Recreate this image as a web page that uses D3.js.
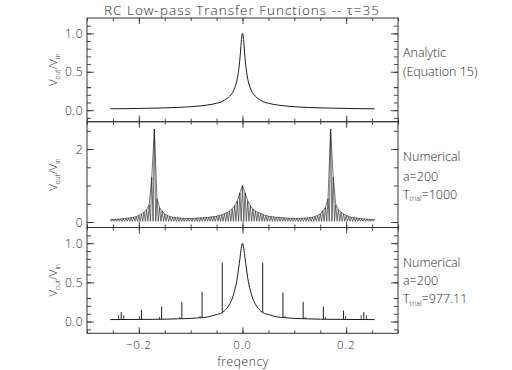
<!DOCTYPE html>
<html><head><meta charset="utf-8">
<script src="https://cdn.jsdelivr.net/npm/d3@7"></script>
<style>
body{margin:0;background:#fff;}
text{font-family:"Open Sans","DejaVu Sans",sans-serif;font-weight:300;fill:#2a2a2a;}
</style></head>
<body><svg id="c" width="512" height="370"></svg>
<script>
// ---------- data ----------
const titleText = "RC Low-pass Transfer Functions -- \u03c4=35";
const xTickLabels = ["\u22120.2", "0.0", "0.2"];
const xTickValues = [-0.2, 0.0, 0.2];

// Panel 1: analytic curve
const topFreq = [-0.255,-0.225,-0.2,-0.175,-0.15,-0.125,-0.1,-0.08,-0.07,-0.06,-0.05,-0.04,-0.035,-0.03,-0.025,-0.02,-0.0175,-0.015,-0.0125,-0.01,-0.008,-0.007,-0.006,-0.005,-0.004,-0.003,-0.002,-0.001,0,
  0.001,0.002,0.003,0.004,0.005,0.006,0.007,0.008,0.01,0.0125,0.015,0.0175,0.02,0.025,0.03,0.035,0.04,0.05,0.06,0.07,0.08,0.1,0.125,0.15,0.175,0.2,0.225,0.255];
const topVal = [0.018,0.02,0.023,0.026,0.03,0.036,0.045,0.057,0.065,0.075,0.09,0.11,0.13,0.15,0.18,0.22,0.25,0.29,0.34,0.41,0.49,0.54,0.60,0.67,0.75,0.84,0.92,0.98,1.0,
  0.98,0.92,0.84,0.75,0.67,0.60,0.54,0.49,0.41,0.34,0.29,0.25,0.22,0.18,0.15,0.13,0.11,0.09,0.075,0.065,0.057,0.045,0.036,0.03,0.026,0.023,0.02,0.018];

// Panel 2: numerical, a=200, T=1000 : comb peaks every 0.005 from -0.255 to 0.255
const midStart = -0.255, midStep = 0.005;
const midPeak = [0.065,0.07,0.075,0.08,0.085,0.09,0.10,0.11,0.12,0.13,0.15,0.18,0.22,0.27,0.34,0.47,1.23,2.55,0.64,0.40,0.30,0.22,0.18,0.15,0.13,0.12,0.115,0.11,0.105,0.10,0.10,0.10,0.10,0.105,0.11,0.115,0.12,0.125,0.13,0.14,0.15,0.16,0.18,0.20,0.23,0.26,0.30,0.36,0.45,0.58,0.80,
  1.00,
  0.80,0.58,0.45,0.36,0.30,0.26,0.23,0.20,0.18,0.16,0.15,0.14,0.13,0.125,0.12,0.115,0.11,0.105,0.10,0.10,0.10,0.10,0.105,0.11,0.115,0.12,0.13,0.15,0.18,0.22,0.30,0.40,0.64,2.55,1.23,0.47,0.34,0.27,0.22,0.18,0.15,0.13,0.12,0.11,0.10,0.09,0.085,0.08,0.075,0.07,0.065];
const midTrough = 0.02;

// Panel 3: numerical, a=200, T=977.11 : smooth base + isolated spikes
const botFreq = [-0.255,-0.2,-0.15,-0.125,-0.1,-0.09,-0.08,-0.07,-0.06,-0.05,-0.04,-0.035,-0.03,-0.025,-0.02,-0.0175,-0.015,-0.0125,-0.01,-0.0075,-0.005,-0.0025,0,
  0.0025,0.005,0.0075,0.01,0.0125,0.015,0.0175,0.02,0.025,0.03,0.035,0.04,0.05,0.06,0.07,0.08,0.09,0.1,0.125,0.15,0.2,0.255];
const botVal = [0.025,0.027,0.03,0.035,0.04,0.045,0.05,0.055,0.07,0.09,0.11,0.135,0.17,0.22,0.29,0.34,0.40,0.47,0.56,0.68,0.80,0.93,1.0,
  0.93,0.80,0.68,0.56,0.47,0.40,0.34,0.29,0.22,0.17,0.135,0.11,0.09,0.07,0.055,0.05,0.045,0.04,0.035,0.03,0.027,0.025];
const spikeFreq = [-0.234,-0.195,-0.156,-0.117,-0.078,-0.039,0.039,0.078,0.117,0.156,0.195,0.234];
const spikeVal  = [0.12,0.15,0.19,0.25,0.38,0.75,0.75,0.37,0.25,0.19,0.14,0.12];
const sideFreq = [-0.239,-0.229,-0.199,-0.160,-0.121,-0.082,0.082,0.121,0.160,0.199,0.229,0.239];
const sideVal  = [0.08,0.08,0.07,0.06,0.06,0.07,0.07,0.06,0.06,0.07,0.08,0.08];

const panelLabels = [["Analytic","(Equation 15)"],["Numerical","a=200","T|trial|=1000"],["Numerical","a=200","T|trial|=977.11"]];

// ---------- layout ----------
const svg = d3.select("#c");
const L = 87, R = 398;
const x = d3.scaleLinear().domain([-0.3, 0.3]).range([L, R]);
const panels = [
  {top:18, bottom:121.7, dom:[-0.15,1.2], major:[0,0.5,1.0], minorStep:0.1, fmt:d3.format(".1f")},
  {top:121.7, bottom:227.5, dom:[-0.15,2.75], major:[0,2], minorStep:0.5, fmt:d3.format("d")},
  {top:227.5, bottom:333.3, dom:[-0.15,1.2], major:[0,0.5,1.0], minorStep:0.1, fmt:d3.format(".1f")}
];
panels.forEach(p => { p.y = d3.scaleLinear().domain(p.dom).range([p.bottom, p.top]); });

const xMinor = d3.range(-0.3, 0.3001, 0.05).map(v => +v.toFixed(3));

function axes(p, showX) {
  const g = svg.append("g");
  const mk = (gen, tr, vals, size) => {
    const a = g.append("g").attr("transform", tr).call(gen.tickValues(vals).tickSize(size).tickFormat(""));
    a.select(".domain").remove();
    a.selectAll("line").attr("stroke", "#333").attr("stroke-width", 0.9);
  };
  const yMinor = d3.range(p.dom[0], p.dom[1] + 1e-9, p.minorStep).map(v => Math.round(v / p.minorStep) * p.minorStep).filter(v => v >= p.dom[0] && v <= p.dom[1]);
  mk(d3.axisBottom(x), `translate(0,${p.bottom})`, xMinor, -3);
  mk(d3.axisBottom(x), `translate(0,${p.bottom})`, xTickValues, -6);
  mk(d3.axisTop(x), `translate(0,${p.top})`, xMinor, -3);
  mk(d3.axisTop(x), `translate(0,${p.top})`, xTickValues, -6);
  mk(d3.axisLeft(p.y), `translate(${L},0)`, yMinor, -4);
  mk(d3.axisLeft(p.y), `translate(${L},0)`, p.major, -7);
  mk(d3.axisRight(p.y), `translate(${R},0)`, yMinor, -4);
  mk(d3.axisRight(p.y), `translate(${R},0)`, p.major, -7);
  g.selectAll("text.yl").data(p.major).join("text")
    .attr("x", L - 4).attr("y", d => p.y(d) + 4.5)
    .attr("text-anchor", "end").attr("font-size", 12).attr("letter-spacing", 0.5).text(p.fmt);
  g.append("rect").attr("x", L).attr("y", p.top).attr("width", R - L).attr("height", p.bottom - p.top)
    .attr("fill", "none").attr("stroke", "#333").attr("stroke-width", 1);
  if (showX) {
    g.selectAll("text.xl").data(xTickValues).join("text")
      .attr("x", d => x(d)).attr("y", p.bottom + 15.7)
      .attr("text-anchor", "middle").attr("font-size", 11.5).attr("letter-spacing", 0.8)
      .text((d, i) => xTickLabels[i]);
  }
  const cy = (p.top + p.bottom) / 2;
  const t = g.append("text").attr("transform", `translate(57,${cy}) rotate(-90)`)
    .attr("text-anchor", "middle").attr("font-size", 11.5);
  t.append("tspan").text("V");
  t.append("tspan").attr("font-size", 6.5).attr("dy", 2.5).text("out");
  t.append("tspan").attr("dy", -2.5).text("/V");
  t.append("tspan").attr("font-size", 6.5).attr("dy", 2.5).text("in");
}
panels.forEach((p, i) => axes(p, i === 2));

// ---------- data lines ----------
const lineStyle = s => s.attr("fill", "none").attr("stroke", "#1a1a1a").attr("stroke-width", 1);

const p1 = panels[0];
svg.append("path").datum(topFreq.map((f, i) => [f, topVal[i]]))
  .attr("d", d3.line().x(d => x(d[0])).y(d => p1.y(d[1])).curve(d3.curveMonotoneX))
  .call(lineStyle);

const p2 = panels[1];
const midPts = [];
midPeak.forEach((v, i) => {
  const f = midStart + i * midStep;
  midPts.push([f, v]);
  if (i < midPeak.length - 1) midPts.push([f + midStep / 2, midTrough]);
});
svg.append("path").datum(midPts)
  .attr("d", d3.line().x(d => x(d[0])).y(d => p2.y(d[1])))
  .call(lineStyle).attr("stroke-width", 0.7).attr("stroke", "#333");
svg.append("path").datum(midPeak.map((v, i) => [midStart + i * midStep, v]))
  .attr("d", d3.line().x(d => x(d[0])).y(d => p2.y(d[1])))
  .call(lineStyle).attr("stroke-width", 0.6);

const p3 = panels[2];
const baseAt = f => {
  const i = d3.bisectLeft(botFreq, f);
  if (i <= 0) return botVal[0];
  if (i >= botFreq.length) return botVal[botVal.length - 1];
  const t = (f - botFreq[i - 1]) / (botFreq[i] - botFreq[i - 1]);
  return botVal[i - 1] + t * (botVal[i] - botVal[i - 1]);
};
svg.append("path").datum(botFreq.map((f, i) => [f, botVal[i]]))
  .attr("d", d3.line().x(d => x(d[0])).y(d => p3.y(d[1])).curve(d3.curveMonotoneX))
  .call(lineStyle);
svg.append("g").selectAll("line.sp").data(spikeFreq).join("line")
  .attr("x1", d => x(d)).attr("x2", d => x(d))
  .attr("y1", d => p3.y(baseAt(d))).attr("y2", (d, i) => p3.y(spikeVal[i]))
  .attr("stroke", "#1a1a1a").attr("stroke-width", 1);
svg.append("g").selectAll("line.sd").data(sideFreq).join("line")
  .attr("x1", d => x(d)).attr("x2", d => x(d))
  .attr("y1", d => p3.y(baseAt(d))).attr("y2", (d, i) => p3.y(sideVal[i]))
  .attr("stroke", "#1a1a1a").attr("stroke-width", 0.8);

// ---------- texts ----------
svg.append("text").attr("x", 242).attr("y", 15).attr("text-anchor", "middle")
  .attr("font-size", 13.5).attr("letter-spacing", 1).text(titleText);
svg.append("text").attr("x", 243).attr("y", 366).attr("text-anchor", "middle")
  .attr("font-size", 12).attr("letter-spacing", 0.6).text("freqency");

const labelY = [[57, 76], [161, 180.5, 198.5], [267, 285, 303]];
panelLabels.forEach((lines, pi) => {
  lines.forEach((s, li) => {
    const t = svg.append("text").attr("x", 403).attr("y", labelY[pi][li]).attr("font-size", 12.5);
    const parts = s.split("|");
    t.append("tspan").text(parts[0]);
    if (parts.length > 1) {
      t.append("tspan").attr("font-size", 7).attr("dy", 2.5).text(parts[1]);
      t.append("tspan").attr("dy", -2.5).text(parts[2]);
    }
  });
});
</script></body></html>
